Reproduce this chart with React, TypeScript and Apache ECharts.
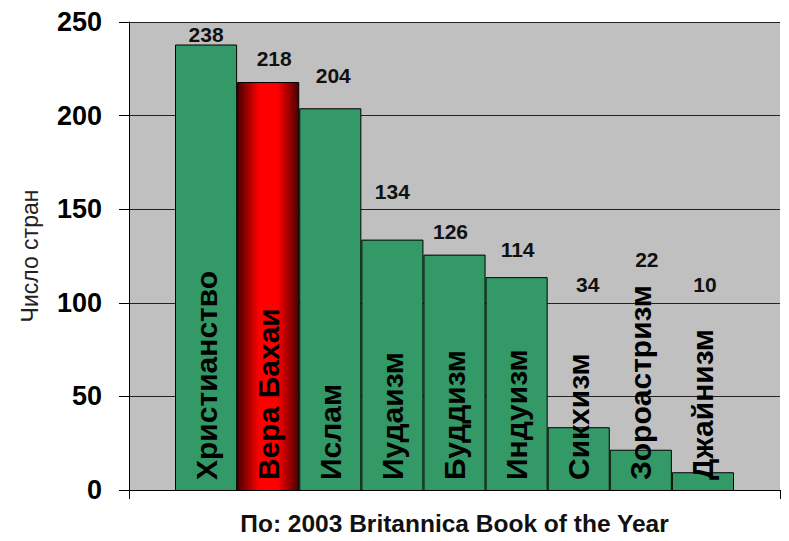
import React, { useEffect, useRef } from "react";
import * as echarts from "echarts";

const categories = [
  "Христианство",
  "Вера Бахаи",
  "Ислам",
  "Иудаизм",
  "Буддизм",
  "Индуизм",
  "Сикхизм",
  "Зороастризм",
  "Джайнизм",
];
const countries = [238, 218, 204, 134, 126, 114, 34, 22, 10];
const highlighted = "Вера Бахаи";
const yMin = 0;
const yMax = 250;
const yStep = 50;
const yAxisName = "Число стран";
const sourceNote = "По: 2003 Britannica Book of the Year";

// value-label nudges [dx, dy] in pixels (manual label placement as in the source)
const labelNudge: [number, number][] = [
  [0, 2],
  [6, -11],
  [3, -20],
  [0, -36],
  [-4, -11],
  [1, -15],
  [9, -130],
  [6, -178],
  [2, -175],
];

const FONT = "'Liberation Sans', Arial, sans-serif";
const GREEN = "#339966";

export default function App() {
  const ref = useRef<HTMLDivElement>(null);

  useEffect(() => {
    if (!ref.current) return;
    const chart = echarts.init(ref.current, undefined, { renderer: "svg" });

    const redGradient = {
      type: "linear",
      x: 0,
      y: 0,
      x2: 1,
      y2: 0,
      colorStops: [
        { offset: 0, color: "#4a0000" },
        { offset: 0.35, color: "#ff0000" },
        { offset: 0.65, color: "#ff0000" },
        { offset: 1, color: "#4a0000" },
      ],
    };

    const barData = countries.map((v, i) => ({
      value: v,
      itemStyle: {
        color: categories[i] === highlighted ? redGradient : GREEN,
      },
      label: { offset: labelNudge[i] },
    }));

    chart.setOption({
      animation: false,
      backgroundColor: "#ffffff",
      textStyle: { fontFamily: FONT },
      grid: [
        {
          left: 129,
          right: 9,
          top: 22,
          bottom: 50,
          show: true,
          backgroundColor: "#c0c0c0",
          borderWidth: 0,
        },
        { left: 175, right: 55, top: 22, bottom: 50 },
      ],
      xAxis: [
        {
          gridIndex: 0,
          type: "category",
          data: [""],
          boundaryGap: true,
          axisLine: { show: true, lineStyle: { color: "#000", width: 1 } },
          axisTick: { show: true, length: 9, lineStyle: { color: "#000" } },
          axisLabel: { show: false },
          splitLine: { show: false },
          name: sourceNote,
          nameLocation: "middle",
          nameGap: 21,
          nameTextStyle: {
            fontSize: 24.5,
            fontWeight: "bold",
            color: "#111",
            fontFamily: FONT,
          },
        },
        {
          gridIndex: 1,
          type: "category",
          data: categories,
          axisLine: { show: false },
          axisTick: { show: false },
          splitLine: { show: false },
          axisLabel: {
            inside: true,
            rotate: 90,
            margin: 11,
            fontSize: 30,
            fontWeight: "bold",
            color: "#000",
            fontFamily: FONT,
            interval: 0,
          },
          z: 10,
        },
      ],
      yAxis: [
        {
          gridIndex: 0,
          type: "value",
          min: yMin,
          max: yMax,
          interval: yStep,
          axisLine: { show: true, lineStyle: { color: "#000", width: 1 } },
          axisTick: { show: true, length: 10, lineStyle: { color: "#000" } },
          splitLine: { show: true, lineStyle: { color: "#222", width: 1 } },
          axisLabel: {
            margin: 27,
            fontSize: 27,
            fontWeight: "bold",
            color: "#000",
            fontFamily: FONT,
          },
          name: yAxisName,
          nameLocation: "middle",
          nameRotate: 90,
          nameGap: 88,
          nameTextStyle: { fontSize: 23, color: "#222", fontFamily: FONT },
        },
        {
          gridIndex: 1,
          type: "value",
          min: yMin,
          max: yMax,
          show: false,
          splitLine: { show: false },
        },
      ],
      series: [
        {
          type: "bar",
          xAxisIndex: 1,
          yAxisIndex: 1,
          barCategoryGap: "0%",
          barWidth: "100%",
          data: barData,
          itemStyle: { borderColor: "#000", borderWidth: 1 },
          label: {
            show: true,
            position: "top",
            distance: 2,
            fontSize: 21,
            fontWeight: "bold",
            color: "#111",
            fontFamily: FONT,
          },
        },
      ],
    });

    return () => chart.dispose();
  }, []);

  return (
    <div
      ref={ref}
      style={{ position: "fixed", left: 0, top: 0, width: 789, height: 541 }}
    />
  );
}
